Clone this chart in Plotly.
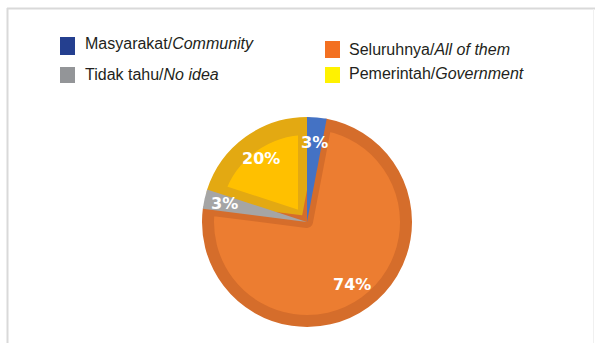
import math
import plotly.graph_objects as go

W, H = 595, 343

# Survey answers, clockwise from 12 o'clock
categories = ["Masyarakat/Community", "Seluruhnya/All of them",
              "Tidak tahu/No idea", "Pemerintah/Government"]
values = [3, 74, 3, 20]

slice_colors = ["#4472C4", "#EC7D31", "#A5A5A5", "#FFC000"]
edge_colors = ["#3B64AE", "#D56D2B", "#999999", "#E3A912"]
legend_colors = ["#243F8F", "#F37021", "#939598", "#FFF200"]
legend_main = ["Masyarakat/", "Seluruhnya/", "Tidak tahu/", "Pemerintah/"]
legend_italic = ["Community", "All of them", "No idea", "Government"]

# pie geometry in pixels
CX, CY, R = 307, 222, 105
edge_band = [0, 6, 0, 9]          # inner darker band per slice
label_radius = [80, 77, 85, 78]   # distance of % labels from centre

# legend layout: square box (x0, y0, x1, y1) and text (x, baseline)
legend_boxes = [(60, 37, 75, 55), (325, 41, 340, 58), (60, 67, 75, 83), (325, 67, 340, 83)]
legend_text_pos = [(83, 49), (347, 55), (83, 80), (347, 79.5)]


def px(x):
    return x / W


def py(y):
    return 1 - y / H


def pie_layer(show, radius, band):
    colors = [slice_colors[i] if i in show else "rgba(0,0,0,0)" for i in range(len(values))]
    lcolors = [edge_colors[i] if i in show else "rgba(0,0,0,0)" for i in range(len(values))]
    widths = [2 * band if i in show else 0 for i in range(len(values))]
    return go.Pie(
        labels=categories, values=values, sort=False, direction="clockwise",
        rotation=0, textinfo="none", hoverinfo="label+percent",
        showlegend=False,
        marker=dict(colors=colors, line=dict(color=lcolors, width=widths)),
        domain=dict(x=[px(CX - radius), px(CX + radius)],
                    y=[py(CY + radius), py(CY - radius)]),
    )


fig = go.Figure()
# yellow, then orange (strokes form the darker inner band), then the thin slices on top
fig.add_trace(pie_layer([3], R - edge_band[3], edge_band[3]))
fig.add_trace(pie_layer([1], R - edge_band[1], edge_band[1]))
fig.add_trace(pie_layer([0, 2], R, 0))

annotations = []
total = sum(values)
cum = 0
for i, v in enumerate(values):
    mid = math.radians((cum + v / 2) / total * 360)
    cum += v
    lx = CX + label_radius[i] * math.sin(mid)
    ly = CY - label_radius[i] * math.cos(mid)
    annotations.append(dict(
        x=px(lx), y=py(ly), xref="paper", yref="paper",
        text=f"{v}%", showarrow=False, xanchor="center", yanchor="middle",
        font=dict(family="DejaVu Sans", size=16, color="white", weight="bold"),
    ))

shapes = []
for i in range(len(categories)):
    x0, y0, x1, y1 = legend_boxes[i]
    shapes.append(dict(type="rect", xref="paper", yref="paper",
                       x0=px(x0), x1=px(x1), y0=py(y1), y1=py(y0),
                       fillcolor=legend_colors[i], line=dict(width=0)))
    tx, base = legend_text_pos[i]
    annotations.append(dict(
        x=px(tx), y=py(base - 5.5), xref="paper", yref="paper",
        text=f"{legend_main[i]}<i>{legend_italic[i]}</i>", showarrow=False,
        xanchor="left", yanchor="middle",
        font=dict(family="Liberation Sans, Arial", size=16, color="#231F20"),
    ))

# panel frame
shapes.append(dict(type="line", xref="paper", yref="paper",
                   x0=px(7), x1=px(W), y0=py(8.5), y1=py(8.5),
                   line=dict(color="#D9D9D9", width=2)))
shapes.append(dict(type="line", xref="paper", yref="paper",
                   x0=px(7.5), x1=px(7.5), y0=py(8), y1=py(H),
                   line=dict(color="#D9D9D9", width=2)))
shapes.append(dict(type="line", xref="paper", yref="paper",
                   x0=px(593.5), x1=px(593.5), y0=py(9), y1=py(H),
                   line=dict(color="#F0F0F0", width=1)))

fig.update_layout(
    width=W, height=H,
    margin=dict(l=0, r=0, t=0, b=0),
    paper_bgcolor="white", plot_bgcolor="white",
    shapes=shapes, annotations=annotations,
)

fig.write_html("out.html")
